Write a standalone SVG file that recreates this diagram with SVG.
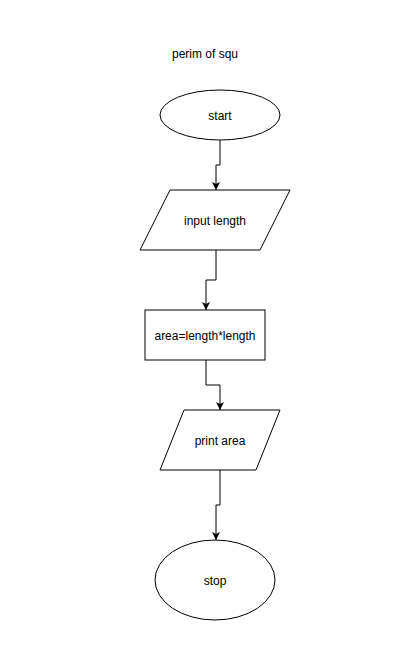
<svg xmlns="http://www.w3.org/2000/svg" width="411" height="662" viewBox="0 0 411 662">
<style>
.s{fill:#fff;stroke:#000;stroke-width:1}
.t{font-family:"Liberation Sans",Arial,sans-serif;font-size:12px;fill:#000;text-anchor:middle;dominant-baseline:central}
.c{fill:none;stroke:#000;stroke-width:1}
</style>
<defs>
<marker id="ah" viewBox="0 0 10 10" refX="10" refY="5" markerWidth="8" markerHeight="8" markerUnits="userSpaceOnUse" orient="auto">
<path d="M0,0 L10,5 L0,10 L2.5,5 Z" fill="#000"/>
</marker>
</defs>
<rect width="411" height="662" fill="#fff"/>
<text id="title" class="t" x="205" y="54">perim of squ</text>
<g id="connectors">
<path class="c" d="M220,140 V165 H216 V190" marker-end="url(#ah)"/>
<path class="c" d="M216,250 V280 H206 V310" marker-end="url(#ah)"/>
<path class="c" d="M206,360 V385 H220 V410" marker-end="url(#ah)"/>
<path class="c" d="M220,470 V505 H216 V540" marker-end="url(#ah)"/>
</g>
<g id="start">
<ellipse class="s" cx="220" cy="115" rx="60" ry="25"/>
<text class="t" x="220" y="116">start</text>
</g>
<g id="input">
<polygon class="s" points="170,190 290,190 260,250 140,250"/>
<text class="t" x="215" y="221">input length</text>
</g>
<g id="process">
<rect class="s" x="145" y="310" width="120" height="50"/>
<text class="t" x="205" y="336">area=length*length</text>
</g>
<g id="print">
<polygon class="s" points="184,410 280,410 256,470 160,470"/>
<text class="t" x="220" y="441">print area</text>
</g>
<g id="stop">
<ellipse class="s" cx="215" cy="580" rx="60" ry="40"/>
<text class="t" x="215" y="581">stop</text>
</g>
</svg>
